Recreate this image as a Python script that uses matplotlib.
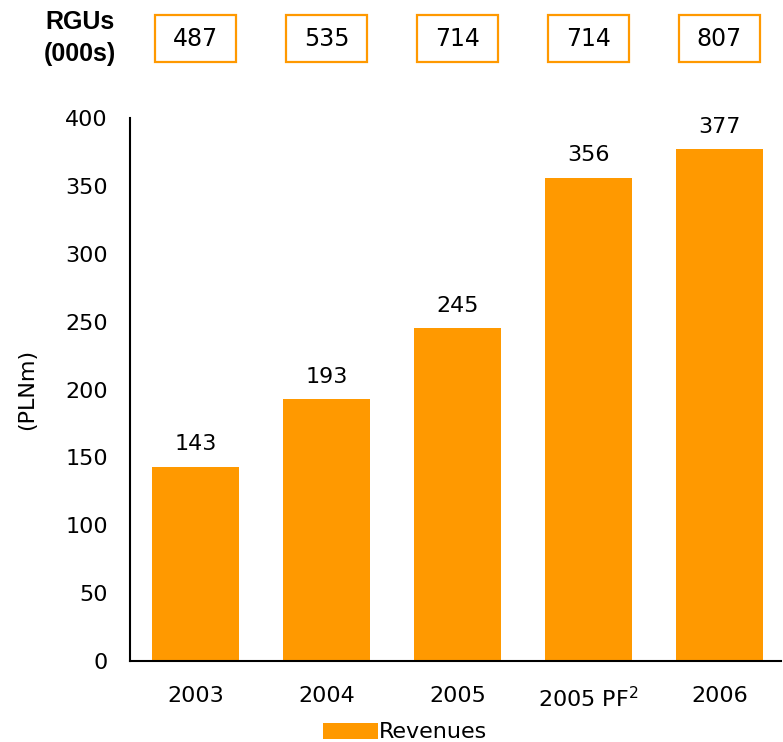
import matplotlib
matplotlib.use("Agg")
from matplotlib import pyplot as plt
from matplotlib.patches import Rectangle

plt.rcParams["font.family"] = ["DejaVu Sans"]
plt.rcParams["mathtext.default"] = "regular"

ORANGE = "#FF9900"  # bar fill

years = ["2003", "2004", "2005", "2005 PF$^{2}$", "2006"]
revenues = [143, 193, 245, 356, 377]
rgus = [487, 535, 714, 714, 807]

fig = plt.figure(figsize=(7.83, 7.42), dpi=100)
W, H = 783, 742

# main axes: spine at x=130, baseline at y=661, 400 at y=118
ax = fig.add_axes([130 / W, 81 / H, 651 / W, 543 / H])
x = range(len(years))
bars = ax.bar(x, revenues, width=0.66, color=ORANGE, label="Revenues")
ax.bar_label(bars, labels=[str(v) for v in revenues], padding=9, fontsize=16)

ax.set_xlim(-0.5, 4.47)
ax.set_ylim(0, 400)
ax.set_yticks(range(0, 401, 50))
ax.set_xticks(list(x))
ax.set_xticklabels(years)
ax.tick_params(axis="both", length=0, labelsize=16)
ax.tick_params(axis="x", pad=18)
ax.tick_params(axis="y", pad=16)
for side in ["top", "right"]:
    ax.spines[side].set_visible(False)
for side in ["left", "bottom"]:
    ax.spines[side].set_linewidth(1.5)
ax.set_ylabel("(PLNm)", fontsize=16, labelpad=20)

# RGU boxes on top, aligned with bars
top = fig.add_axes([130 / W, 680 / H, 651 / W, 47 / H])
top.set_xlim(ax.get_xlim())
top.set_ylim(0, 1)
top.axis("off")
for i, v in enumerate(rgus):
    top.add_patch(Rectangle((i - 0.31, 0), 0.62, 1, fill=False,
                            edgecolor=ORANGE, linewidth=1.6, clip_on=False))
    top.text(i, 0.5, str(v), ha="center", va="center", fontsize=17)

fig.text(80 / W, 1 - 38 / H, "RGUs\n(000s)", ha="center", va="center",
         fontsize=18, fontweight="bold", linespacing=1.4,
         family=["Liberation Sans", "DejaVu Sans"])

fig.legend(handles=[bars], labels=["Revenues"], loc="lower center",
           bbox_to_anchor=(405 / W, -16 / H), frameon=False, fontsize=16,
           handlelength=2.5, handleheight=0.75, handletextpad=0.05,
           borderpad=0.2)

plt.savefig("out.png", dpi=100)
